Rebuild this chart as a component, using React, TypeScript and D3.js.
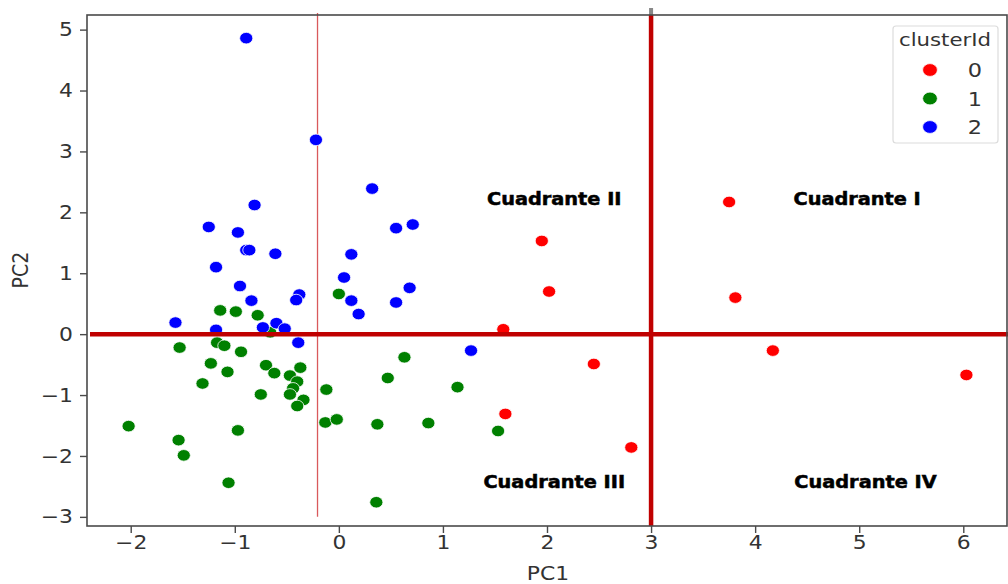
import React, { useEffect, useRef } from 'react';
import * as d3 from 'd3';

// cluster 0 (red)
const cluster0X = [3.75, 1.95, 2.02, 3.81, 1.58, 2.45, 4.17, 6.03, 1.60, 2.81];
const cluster0Y = [2.17, 1.53, 0.70, 0.60, 0.08, -0.49, -0.27, -0.67, -1.31, -1.86];

// cluster 1 (green)
const cluster1X = [0.00, -1.14, -0.99, -0.78, -0.66, -1.53, -1.17, -1.10, -0.94, -1.23, -1.07, -0.70, -0.62,
  -0.37, -0.47, -0.40, -0.44, -0.47, -0.34, -0.40, -1.31, -0.75, -0.12, -0.13, -0.02, 0.63, 0.47, 0.37, 0.86,
  1.14, 1.53, -2.02, -1.54, -1.49, -0.97, -1.06, 0.36];
const cluster1Y = [0.66, 0.39, 0.37, 0.31, 0.03, -0.22, -0.14, -0.19, -0.29, -0.48, -0.62, -0.51, -0.64,
  -0.55, -0.68, -0.78, -0.89, -0.99, -1.08, -1.18, -0.81, -0.99, -0.91, -1.45, -1.40, -0.38, -0.72, -1.48, -1.46,
  -0.87, -1.59, -1.51, -1.74, -1.99, -1.58, -2.44, -2.76];

// cluster 2 (blue)
const cluster2X = [-0.89, -0.22, 0.32, -0.81, -1.25, -0.97, 0.55, 0.71, -0.89, -0.86, -0.61, 0.12, -1.18, 0.05,
  -0.95, 0.68, -0.38, -0.41, 0.12, 0.19, 0.55, -0.84, -1.57, -1.18, -0.73, -0.60, -0.52, -0.39, 1.27];
const cluster2Y = [4.86, 3.19, 2.39, 2.12, 1.76, 1.67, 1.74, 1.80, 1.38, 1.38, 1.32, 1.31, 1.10, 0.93,
  0.79, 0.76, 0.65, 0.56, 0.55, 0.33, 0.52, 0.55, 0.19, 0.07, 0.11, 0.18, 0.09, -0.14, -0.27];

const clusterIds = ['0', '1', '2'];
const clusterColors = ['#ff0000', '#008000', '#0000ff'];

const xTicks = [-2, -1, 0, 1, 2, 3, 4, 5, 6];
const yTicks = [-3, -2, -1, 0, 1, 2, 3, 4, 5];

const quadrantLabels = ['Cuadrante I', 'Cuadrante II', 'Cuadrante III', 'Cuadrante IV'];
const quadrantX = [4.98, 2.07, 2.07, 5.06];
const quadrantY = [2.12, 2.12, -2.52, -2.52];

const SX = 1.15; // the picture is a bit wider than tall

export default function App() {
  const ref = useRef<SVGSVGElement>(null);

  useEffect(() => {
    document.body.style.margin = '0';
    const svg = d3.select(ref.current);
    svg.selectAll('*').remove();

    const x = d3.scaleLinear().domain([-2.42, 6.42]).range([87, 1007]);
    const y = d3.scaleLinear().domain([5.24, -3.15]).range([15, 526]);
    const font = 'DejaVu Sans, sans-serif';

    // thin reference line
    svg.append('line')
      .attr('x1', x(-0.205)).attr('x2', x(-0.205))
      .attr('y1', 13).attr('y2', y(-3))
      .attr('stroke', '#d9595c').attr('stroke-width', 1.3);

    // points
    const series = [
      { xs: cluster0X, ys: cluster0Y },
      { xs: cluster1X, ys: cluster1Y },
      { xs: cluster2X, ys: cluster2Y }
    ];
    series.forEach((s, k) => {
      svg.append('g').selectAll('ellipse')
        .data(s.xs.map((v, i) => [v, s.ys[i]]))
        .enter()
        .append('ellipse')
        .attr('cx', d => x(d[0]))
        .attr('cy', d => y(d[1]))
        .attr('rx', 6.6).attr('ry', 5.8)
        .attr('fill', clusterColors[k])
        .attr('stroke', 'white').attr('stroke-width', 0.8);
    });

    // quadrant lines
    svg.append('line')
      .attr('x1', 90).attr('x2', 1008)
      .attr('y1', y(0)).attr('y2', y(0))
      .attr('stroke', '#c00000').attr('stroke-width', 4.5);
    svg.append('line')
      .attr('x1', x(3)).attr('x2', x(3))
      .attr('y1', 8).attr('y2', 15)
      .attr('stroke', '#888').attr('stroke-width', 4);
    svg.append('line')
      .attr('x1', x(3)).attr('x2', x(3))
      .attr('y1', 15).attr('y2', 526)
      .attr('stroke', '#c00000').attr('stroke-width', 4.5);

    // frame
    svg.append('rect')
      .attr('x', 87).attr('y', 15).attr('width', 920).attr('height', 511)
      .attr('fill', 'none').attr('stroke', '#4a4a4a').attr('stroke-width', 1.6);

    // axes
    const gx = svg.append('g').attr('transform', 'translate(0,526)')
      .call(d3.axisBottom(x).tickValues(xTicks).tickSize(7).tickPadding(5).tickFormat(d3.format('d')));
    const gy = svg.append('g').attr('transform', 'translate(87,0)')
      .call(d3.axisLeft(y).tickValues(yTicks).tickSize(7).tickPadding(5).tickFormat(d3.format('d')));
    [gx, gy].forEach(g => {
      g.select('.domain').remove();
      g.selectAll('line').attr('stroke', '#4a4a4a').attr('stroke-width', 1.4);
      g.selectAll('text')
        .attr('font-family', font).attr('font-size', 19).attr('fill', '#333')
        .attr('transform', `scale(${SX},1)`);
    });
    gx.selectAll('text').attr('dy', '0.71em').attr('y', 10);
    gy.selectAll('text').attr('x', -14 / SX);

    svg.append('text')
      .attr('transform', `translate(548,580) scale(${SX},1)`)
      .attr('text-anchor', 'middle')
      .attr('font-family', font).attr('font-size', 19).attr('fill', '#333')
      .text('PC1');
    svg.append('text')
      .attr('transform', `translate(28,270) rotate(-90) scale(1,${SX})`)
      .attr('text-anchor', 'middle')
      .attr('font-family', font).attr('font-size', 19).attr('fill', '#333')
      .text('PC2');

    // quadrant names
    quadrantLabels.forEach((t, i) => {
      svg.append('text')
        .attr('transform', `translate(${x(quadrantX[i])},${y(quadrantY[i])}) scale(${SX},1)`)
        .attr('text-anchor', 'middle')
        .attr('font-family', font).attr('font-weight', 'bold').attr('font-size', 16.8)
        .attr('fill', 'black').attr('stroke', 'black').attr('stroke-width', 0.5)
        .text(t);
    });

    // legend
    const lg = svg.append('g');
    lg.append('rect')
      .attr('x', 893).attr('y', 26).attr('width', 105).attr('height', 117).attr('rx', 3)
      .attr('fill', 'white').attr('fill-opacity', 0.8)
      .attr('stroke', '#dcdcdc').attr('stroke-width', 1.2);
    lg.append('text')
      .attr('transform', `translate(945,46) scale(${SX},1)`)
      .attr('text-anchor', 'middle')
      .attr('font-family', font).attr('font-size', 18.5).attr('fill', '#333')
      .text('clusterId');
    clusterIds.forEach((id, i) => {
      const cy = 70 + i * 28.5;
      lg.append('ellipse')
        .attr('cx', 930).attr('cy', cy).attr('rx', 7.4).attr('ry', 6.4)
        .attr('fill', clusterColors[i]).attr('stroke', 'white').attr('stroke-width', 0.8);
      lg.append('text')
        .attr('transform', `translate(975,${cy + 7}) scale(${SX},1)`)
        .attr('text-anchor', 'middle')
        .attr('font-family', font).attr('font-size', 19.5).attr('fill', '#333')
        .text(id);
    });
  }, []);

  return <svg ref={ref} width={1008} height={584} style={{ display: 'block', background: 'white' }} />;
}
